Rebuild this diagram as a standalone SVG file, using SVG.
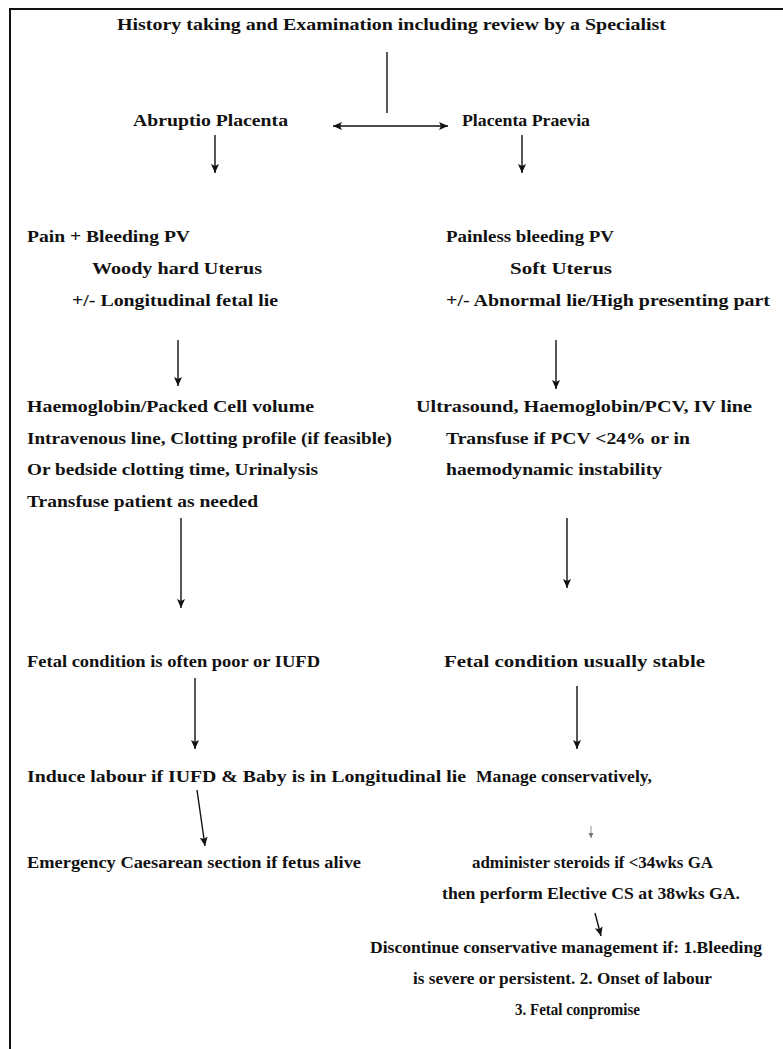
<svg xmlns="http://www.w3.org/2000/svg" width="783" height="1049" viewBox="0 0 783 1049">
<defs>
<style>
text{font-family:"Liberation Serif","Times New Roman",serif;font-weight:bold;font-size:17px;fill:#111}
.c line{stroke:#111;stroke-width:1.4;fill:none}
.c line.a{marker-end:url(#ah)}
.c line.d{marker-start:url(#ahs);marker-end:url(#ah)}
</style>
<marker id="ah" markerWidth="10" markerHeight="10" refX="9" refY="5" orient="auto" markerUnits="userSpaceOnUse"><path d="M0,1 L9,5 L0,9 L2,5 Z" fill="#111"/></marker>
<marker id="ahs" markerWidth="10" markerHeight="10" refX="9" refY="5" orient="auto-start-reverse" markerUnits="userSpaceOnUse"><path d="M0,1 L9,5 L0,9 L2,5 Z" fill="#111"/></marker>
<marker id="ahg" markerWidth="6" markerHeight="6" refX="5" refY="3" orient="auto" markerUnits="userSpaceOnUse"><path d="M0,0.5 L5,3 L0,5.5 Z" fill="#777"/></marker>
</defs>
<rect width="783" height="1049" fill="#fff"/>
<g id="frame"><path d="M10,1049 V9 H783" stroke="#111" stroke-width="2" fill="none"/></g>

<g class="c" id="connectors">
<line x1="387" y1="52" x2="387" y2="113"/>
<line class="d" x1="333" y1="126" x2="448" y2="126"/>
<line class="a" x1="215" y1="135" x2="215" y2="173"/>
<line class="a" x1="522" y1="135" x2="522" y2="173"/>
<line class="a" x1="178" y1="340" x2="178" y2="386"/>
<line class="a" x1="556" y1="340" x2="556" y2="389"/>
<line class="a" x1="181" y1="518" x2="181" y2="608"/>
<line class="a" x1="567" y1="518" x2="567" y2="588"/>
<line class="a" x1="195" y1="678" x2="195" y2="749"/>
<line class="a" x1="577" y1="686" x2="577" y2="749"/>
<line class="a" x1="197" y1="790" x2="205" y2="846"/>
<line x1="591" y1="826" x2="591" y2="838" style="stroke:#777;stroke-width:0.8;marker-end:url(#ahg)"/>
<line class="a" x1="595" y1="913" x2="601" y2="936"/>
</g>

<g id="n-title"><text x="117" y="30" textLength="549" lengthAdjust="spacingAndGlyphs">History taking and Examination including review by a Specialist</text></g>
<g id="n-abruptio"><text x="133" y="126" textLength="155" lengthAdjust="spacingAndGlyphs">Abruptio Placenta</text></g>
<g id="n-praevia"><text x="462" y="126" textLength="128" lengthAdjust="spacingAndGlyphs">Placenta Praevia</text></g>

<g id="n-abr-signs">
<text x="27" y="242" textLength="163" lengthAdjust="spacingAndGlyphs">Pain + Bleeding PV</text>
<text x="92" y="274" textLength="170" lengthAdjust="spacingAndGlyphs">Woody hard Uterus</text>
<text x="72" y="306" textLength="206" lengthAdjust="spacingAndGlyphs">+/- Longitudinal fetal lie</text>
</g>
<g id="n-pra-signs">
<text x="446" y="242" textLength="168" lengthAdjust="spacingAndGlyphs">Painless bleeding PV</text>
<text x="510" y="274" textLength="102" lengthAdjust="spacingAndGlyphs">Soft Uterus</text>
<text x="446" y="306" textLength="324" lengthAdjust="spacingAndGlyphs">+/- Abnormal lie/High presenting part</text>
</g>

<g id="n-abr-inv">
<text x="27" y="412" textLength="287" lengthAdjust="spacingAndGlyphs">Haemoglobin/Packed Cell volume</text>
<text x="27" y="444" textLength="365" lengthAdjust="spacingAndGlyphs">Intravenous line, Clotting profile (if feasible)</text>
<text x="27" y="475" textLength="291" lengthAdjust="spacingAndGlyphs">Or bedside clotting time, Urinalysis</text>
<text x="27" y="507" textLength="231" lengthAdjust="spacingAndGlyphs">Transfuse patient as needed</text>
</g>
<g id="n-pra-inv">
<text x="416" y="412" textLength="336" lengthAdjust="spacingAndGlyphs">Ultrasound, Haemoglobin/PCV, IV line</text>
<text x="446" y="444" textLength="244" lengthAdjust="spacingAndGlyphs">Transfuse if PCV &lt;24% or in</text>
<text x="446" y="475" textLength="216" lengthAdjust="spacingAndGlyphs">haemodynamic instability</text>
</g>

<g id="n-abr-fetal"><text x="27" y="667" textLength="293" lengthAdjust="spacingAndGlyphs">Fetal condition is often poor or IUFD</text></g>
<g id="n-pra-fetal"><text x="444" y="667" textLength="261" lengthAdjust="spacingAndGlyphs">Fetal condition usually stable</text></g>

<g id="n-induce"><text x="27" y="782" textLength="439" lengthAdjust="spacingAndGlyphs">Induce labour if IUFD &amp; Baby is in Longitudinal lie</text></g>
<g id="n-manage"><text x="476" y="782" textLength="176" lengthAdjust="spacingAndGlyphs">Manage conservatively,</text></g>

<g id="n-emergency"><text x="27" y="868" textLength="334" lengthAdjust="spacingAndGlyphs">Emergency Caesarean section if fetus alive</text></g>
<g id="n-steroids">
<text x="472" y="868" textLength="241" lengthAdjust="spacingAndGlyphs">administer steroids if &lt;34wks GA</text>
<text x="442" y="899" textLength="298" lengthAdjust="spacingAndGlyphs">then perform Elective CS at 38wks GA.</text>
</g>
<g id="n-discontinue">
<text x="370" y="953" textLength="392" lengthAdjust="spacingAndGlyphs">Discontinue conservative management if: 1.Bleeding</text>
<text x="413" y="984" textLength="299" lengthAdjust="spacingAndGlyphs">is severe or persistent. 2. Onset of labour</text>
<text x="515" y="1015" textLength="125" lengthAdjust="spacingAndGlyphs">3. Fetal conpromise</text>
</g>
</svg>
